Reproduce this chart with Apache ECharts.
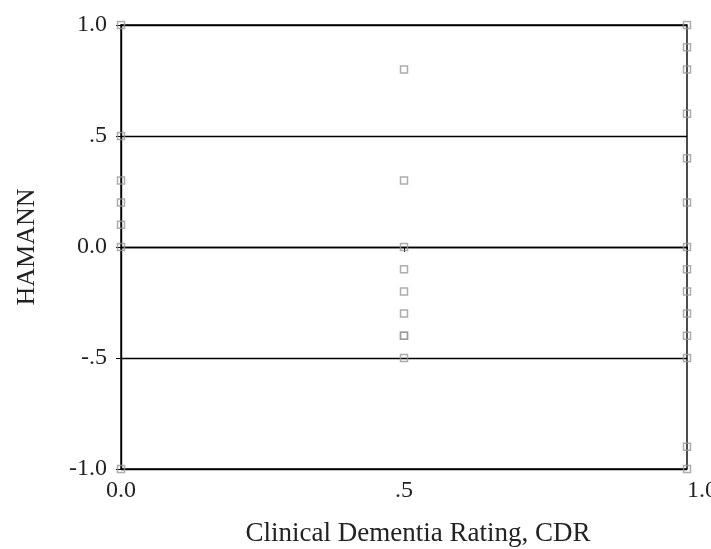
<!DOCTYPE html>
<html><head><meta charset="utf-8">
<script src="https://cdn.jsdelivr.net/npm/echarts@6/dist/echarts.min.js"></script>
<style>html,body{margin:0;padding:0;background:#fff}#c{width:711px;height:549px}</style>
</head><body><div id="c"></div>
<script>
const xTickLabels = {"0":"0.0","0.5":".5","1":"1.0"};
const yTickLabels = {"-1":"-1.0","-0.5":"-.5","0":"0.0","0.5":".5","1":"1.0"};
const cdr00 = [1.0, 0.5, 0.3, 0.2, 0.1, 0.0, -1.0];
const cdr05 = [0.8, 0.3, 0.0, -0.1, -0.2, -0.3, -0.4, -0.4, -0.5];
const cdr10 = [1.0, 0.9, 0.8, 0.6, 0.4, 0.2, 0.0, -0.1, -0.2, -0.3, -0.4, -0.5, -0.9, -1.0];
const groups = [[0, cdr00], [0.5, cdr05], [1, cdr10]];
const pts = [];
groups.forEach(([x, ys]) => ys.forEach(y => pts.push([x, y])));
const font = '"Liberation Serif", "Times New Roman", serif';
const chart = echarts.init(document.getElementById('c'));
chart.setOption({
  animation: false,
  backgroundColor: '#fff',
  grid: {left: 121, right: 24, top: 25, bottom: 80, containLabel: false, outerBoundsMode: 'none', show: true, borderColor: '#000', borderWidth: 1.4, backgroundColor: 'transparent'},
  xAxis: {
    type: 'value', min: 0, max: 1, interval: 0.5,
    name: 'Clinical Dementia Rating, CDR', nameLocation: 'middle', nameGap: 51,
    nameTextStyle: {fontFamily: font, fontSize: 27, color: '#222', padding: [0, 0, 0, 28]},
    axisLine: {show: true, lineStyle: {color: '#000', width: 1.4}},
    axisTick: {show: true, length: 5, lineStyle: {color: '#000'}},
    splitLine: {show: false},
    axisLabel: {fontFamily: font, fontSize: 24, color: '#222', margin: 10, alignMaxLabel: 'left', formatter: v => xTickLabels[String(v)] || ''}
  },
  yAxis: {
    type: 'value', min: -1, max: 1, interval: 0.5,
    name: 'HAMANN', nameLocation: 'middle', nameGap: 81, nameRotate: 90,
    nameTextStyle: {fontFamily: font, fontSize: 26, color: '#222'},
    axisLine: {show: true, lineStyle: {color: '#000', width: 1.4}},
    axisTick: {show: true, length: 5, lineStyle: {color: '#000'}},
    splitLine: {show: true, lineStyle: {color: '#000', width: 1.4}},
    axisLabel: {fontFamily: font, fontSize: 24, color: '#222', margin: 14, formatter: v => yTickLabels[String(v)] || ''}
  },
  series: [{
    type: 'scatter', data: pts, symbol: 'rect', symbolSize: 7, clip: false,
    itemStyle: {color: 'rgba(255,255,255,0)', borderColor: '#999', borderWidth: 1.5}
  }]
});
</script></body></html>
